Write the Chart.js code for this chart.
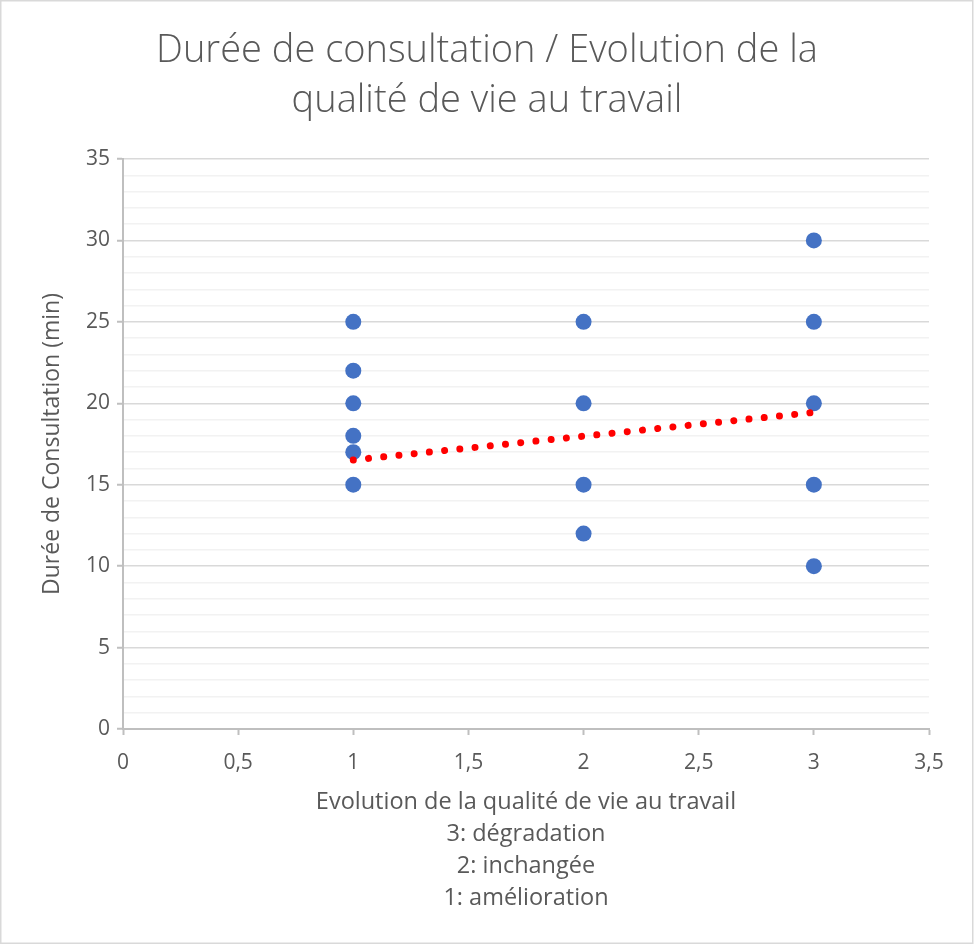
<!DOCTYPE html>
<html>
<head>
<meta charset="utf-8">
<script src="https://cdn.jsdelivr.net/npm/chart.js@4"></script>
<style>
  html, body { margin: 0; padding: 0; background: #ffffff; }
  #wrap { width: 974px; height: 945px; position: relative; }
</style>
</head>
<body>
<div id="wrap"><canvas id="c" width="974" height="945"></canvas></div>
<script>
// ---- Data ----
const qualite = [1, 1, 1, 1, 1, 1, 2, 2, 2, 2, 3, 3, 3, 3, 3];
const duree   = [25, 22, 20, 18, 17, 15, 25, 20, 15, 12, 30, 25, 20, 15, 10];
const trendX  = [1, 3];
const trendY  = [16.52, 19.44];
const chartTitle = ['Durée de consultation / Evolution de la', 'qualité de vie au travail'];
const xTitle = ['Evolution de la qualité de vie au travail', '3: dégradation', '2: inchangée', '1: amélioration'];
const yTitle = 'Durée de Consultation (min)';

const points = qualite.map((q, i) => ({ x: q, y: duree[i] }));
const trend = trendX.map((x, i) => ({ x: x, y: trendY[i] }));

const FONT = "'Open Sans', 'Noto Sans', sans-serif";
const TXT = '#595959';

const frame = {
  id: 'frame',
  beforeDraw(chart) {
    const ctx = chart.ctx;
    ctx.save();
    ctx.fillStyle = '#ffffff';
    ctx.fillRect(0, 0, chart.width, chart.height);
    ctx.strokeStyle = '#d9d9d9';
    ctx.lineWidth = 1.5;
    ctx.strokeRect(0.75, 0.75, chart.width - 2, chart.height - 2.5);
    ctx.restore();
  }
};

new Chart(document.getElementById('c'), {
  type: 'scatter',
  data: {
    datasets: [
      {
        type: 'line',
        label: 'Tendance',
        data: trend,
        borderColor: '#ff0000',
        borderWidth: 7,
        borderDash: [0.001, 15.3],
        borderCapStyle: 'round',
        pointRadius: 0,
        fill: false,
        order: 0
      },
      {
        label: 'Durée',
        data: points,
        backgroundColor: '#4472C4',
        borderColor: '#4472C4',
        borderWidth: 0,
        pointRadius: 8,
        pointHoverRadius: 8,
        order: 1
      }
    ]
  },
  plugins: [frame],
  options: {
    responsive: false,
    animation: false,
    events: [],
    layout: { padding: 0 },
    plugins: {
      legend: { display: false },
      tooltip: { enabled: false },
      title: {
        display: true,
        text: chartTitle,
        color: TXT,
        font: { family: FONT, size: 38, weight: '300', lineHeight: 50 / 38 },
        padding: { top: 26, bottom: 33 }
      }
    },
    scales: {
      x: {
        type: 'linear',
        min: 0,
        max: 3.5,
        afterFit(scale) { scale.height = 216; },
        ticks: {
          stepSize: 0.5,
          color: TXT,
          font: { family: FONT, size: 21 },
          padding: 15,
          callback: (v) => String(v).replace('.', ',')
        },
        grid: {
          drawOnChartArea: false,
          drawTicks: true,
          tickLength: 6,
          tickColor: '#bfbfbf',
          tickWidth: 2
        },
        border: { color: '#bfbfbf', width: 2 },
        title: {
          display: true,
          text: xTitle,
          color: TXT,
          font: { family: FONT, size: 23.5, lineHeight: 32 / 23.5 },
          padding: { top: 0, bottom: 31 }
        }
      },
      y: {
        type: 'linear',
        min: 0,
        max: 35,
        afterFit(scale) { scale.width = 123; },
        ticks: {
          stepSize: 1,
          autoSkip: false,
          color: TXT,
          font: { family: FONT, size: 21 },
          padding: 7,
          callback: (v) => (v % 5 === 0 ? String(v) : '')
        },
        grid: {
          color: (ctx) => (ctx.tick && ctx.tick.value % 5 === 0 ? '#d9d9d9' : '#f2f2f2'),
          lineWidth: 1.5,
          drawTicks: true,
          tickLength: 6,
          tickColor: (ctx) => (ctx.tick && ctx.tick.value % 5 === 0 ? '#bfbfbf' : 'rgba(0,0,0,0)'),
          tickWidth: 2
        },
        border: { color: '#bfbfbf', width: 2 },
        title: {
          display: true,
          text: yTitle,
          color: TXT,
          font: { family: FONT, size: 23, lineHeight: 1.2 },
          padding: { top: 39, bottom: 0 }
        }
      },
      yRight: {
        type: 'linear',
        position: 'right',
        min: 0,
        max: 35,
        afterFit(scale) { scale.width = 45; },
        ticks: { display: false },
        grid: { drawOnChartArea: false, drawTicks: false },
        border: { display: false },
        title: { display: false }
      }
    }
  }
});
</script>
</body>
</html>
